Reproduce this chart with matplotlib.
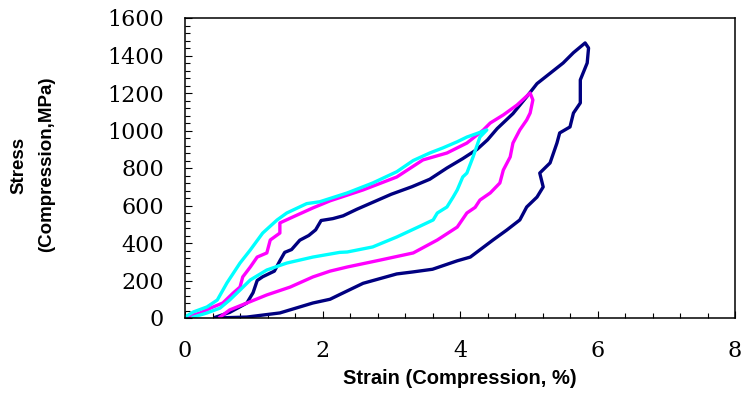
import matplotlib
matplotlib.use('Agg')
import matplotlib.pyplot as plt
from matplotlib.ticker import MultipleLocator

plt.rcParams['font.family'] = ['DejaVu Serif']

# navy loop
navy_up_x = [0.45, 0.65, 0.9, 0.99, 1.05, 1.13, 1.3, 1.38, 1.45, 1.55, 1.67, 1.8, 1.9, 1.98,
             2.15, 2.3, 2.5, 2.75, 3.0, 3.3, 3.56, 3.81, 4.04, 4.25, 4.4, 4.54, 4.77, 4.97,
             5.12, 5.31, 5.5, 5.65, 5.82]
navy_up_y = [5, 30, 80, 135, 200, 220, 250, 305, 350, 365, 415, 440, 470, 520,
             530, 545, 580, 620, 660, 700, 740, 800, 850, 900, 950, 1010, 1090, 1180,
             1250, 1305, 1360, 1415, 1467]
navy_dn_x = [5.87, 5.85, 5.75, 5.75, 5.65, 5.6, 5.45, 5.41, 5.31, 5.16, 5.21, 5.12, 4.97,
             4.87, 4.68, 4.48, 4.15, 3.96, 3.6, 3.3, 3.08, 2.59, 2.25, 2.11, 1.86, 1.38,
             0.9, 0.45]
navy_dn_y = [1440, 1360, 1270, 1147, 1093, 1019, 987, 933, 827, 773, 699, 645, 592,
             523, 469, 416, 325, 305, 260, 245, 235, 185, 125, 100, 80, 27,
             5, 0]

# magenta loop
mag_up_x = [0.03, 0.22, 0.41, 0.55, 0.7, 0.8, 0.84, 0.95, 1.05, 1.19, 1.24, 1.38, 1.38,
            1.57, 1.86, 2.11, 2.59, 3.08, 3.46, 3.81, 4.1, 4.34, 4.44, 4.63, 4.83, 5.02]
mag_up_y = [5, 27, 59, 80, 133, 165, 219, 272, 325, 347, 416, 453, 507,
            539, 587, 625, 683, 752, 843, 880, 933, 1003, 1040, 1083, 1136, 1200]
mag_dn_x = [5.06, 5.02, 4.97, 4.87, 4.77, 4.73, 4.63, 4.58, 4.44, 4.29, 4.22, 4.1, 3.96,
            3.67, 3.32, 2.84, 2.36, 2.11, 1.86, 1.53, 1.19, 0.9, 0.65, 0.51]
mag_dn_y = [1163, 1093, 1056, 1003, 933, 859, 789, 720, 667, 629, 590, 560, 485,
            416, 347, 309, 272, 250, 219, 165, 123, 80, 43, 5]

# cyan loop
cyan_up_x = [0.0, 0.12, 0.32, 0.47, 0.61, 0.8, 0.95, 1.13, 1.34, 1.48, 1.77, 1.96, 2.36,
             2.73, 3.08, 3.32, 3.56, 3.75, 3.96, 4.1, 4.39]
cyan_up_y = [5, 32, 59, 96, 187, 293, 363, 453, 523, 560, 610, 620, 667,
             720, 780, 840, 880, 907, 940, 965, 1003]
cyan_dn_x = [4.29, 4.19, 4.1, 4.04, 3.96, 3.9, 3.81, 3.67, 3.61, 3.42, 3.08, 2.73, 2.36,
             2.25, 1.86, 1.48, 1.19, 0.95, 0.8, 0.65, 0.51, 0.32, 0.12]
cyan_dn_y = [965, 859, 773, 752, 683, 645, 592, 560, 523, 490, 432, 379, 352,
             350, 325, 293, 256, 203, 149, 96, 53, 27, 5]

fig = plt.figure(figsize=(7.43, 3.97), dpi=100)
ax = fig.add_axes([185 / 743, 79 / 397, 550 / 743, 300 / 397])

lw = 2.4
ax.plot(navy_up_x + navy_dn_x, navy_up_y + navy_dn_y, color='#000080', lw=lw)
ax.plot(mag_up_x + mag_dn_x, mag_up_y + mag_dn_y, color='#ff00ff', lw=lw)
ax.plot(cyan_up_x + cyan_dn_x, cyan_up_y + cyan_dn_y, color='#00ffff', lw=lw)

ax.set_xlim(0, 8)
ax.set_ylim(0, 1600)
ax.xaxis.set_major_locator(MultipleLocator(2))
ax.xaxis.set_minor_locator(MultipleLocator(0.4))
ax.yaxis.set_major_locator(MultipleLocator(200))
ax.yaxis.set_minor_locator(MultipleLocator(40))
ax.tick_params(which='both', direction='in', width=0.8, top=False, right=False)
ax.tick_params(which='major', length=5)
ax.tick_params(which='minor', length=3.5)
ax.tick_params(axis='both', labelsize=16)
ax.tick_params(axis='x', pad=16)
ax.tick_params(axis='y', pad=15)
for s in ax.spines.values():
    s.set_linewidth(1.1)

ax.set_xlabel('Strain (Compression, %)', family='Liberation Sans', weight='bold',
              fontsize=14.5, labelpad=5)
fig.text(19 / 743, 1 - 165 / 397, 'Stress', rotation=90, ha='center', va='center',
         family='Liberation Sans', weight='bold', fontsize=13.5)
fig.text(47 / 743, 1 - 164 / 397, '(Compression,MPa)', rotation=90, ha='center', va='center',
         family='Liberation Sans', weight='bold', fontsize=13.5)

fig.savefig('out.png', dpi=100)
